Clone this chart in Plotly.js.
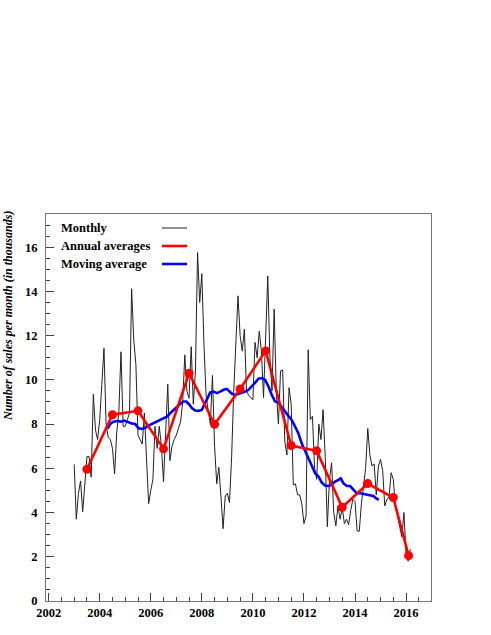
<!DOCTYPE html>
<html>
<head>
<meta charset="utf-8">
<script src="https://cdn.plot.ly/plotly-3.0.1.min.js"></script>
<style>html,body{margin:0;padding:0;background:#fff;}#chart{width:491px;height:635px;}</style>
</head>
<body>
<div id="chart"></div>
<script>
// ---- data ----
var monthlyStartYear = 2003;
var monthlySales = [
  // 2003
  6.18, 3.70, 4.87, 5.43, 4.04, 5.33, 6.53, 6.53, 5.60, 9.35, 7.74, 7.30,
  // 2004
  8.20, 9.80, 11.43, 8.00, 7.40, 7.30, 6.90, 5.75, 7.60, 8.60, 11.27, 7.90,
  // 2005
  7.90, 8.20, 8.50, 14.12, 11.80, 10.70, 7.50, 7.30, 7.10, 8.50, 6.60, 4.40,
  // 2006
  5.00, 5.50, 7.90, 6.90, 7.90, 7.00, 5.40, 7.30, 9.80, 6.35, 7.00, 7.30,
  // 2007
  7.50, 7.80, 8.10, 9.00, 11.13, 9.47, 9.17, 11.50, 8.90, 10.40, 15.76, 13.50,
  // 2008
  14.80, 11.60, 9.30, 8.60, 8.00, 10.20, 7.00, 5.30, 6.05, 4.70, 3.27, 4.75,
  // 2009
  4.87, 4.45, 6.50, 9.50, 11.80, 13.80, 12.00, 11.30, 12.30, 9.50, 9.30, 9.20,
  // 2010
  9.10, 11.70, 11.00, 12.20, 11.30, 9.20, 12.00, 14.70, 11.00, 9.50, 13.20, 9.50,
  // 2011
  8.00, 10.40, 10.45, 7.20, 6.60, 9.65, 8.90, 5.25, 5.30, 4.80, 4.80, 4.40,
  // 2012
  3.50, 3.85, 11.36, 8.20, 8.35, 6.00, 5.50, 8.00, 7.30, 8.65, 6.50, 3.36,
  // 2013
  5.50, 6.25, 4.00, 3.40, 4.30, 3.70, 4.20, 3.50, 3.70, 3.45, 4.10, 4.60,
  // 2014
  4.50, 3.17, 3.15, 4.40, 5.20, 6.00, 7.80, 6.60, 6.10, 6.20, 4.80, 6.10,
  // 2015
  6.40, 5.90, 4.30, 4.60, 4.70, 5.80, 5.50, 4.30, 3.85, 3.30, 2.90, 4.00,
  // 2016
  2.10, 1.80, 2.35
];

var annualX   = [2003.5, 2004.5, 2005.5, 2006.5, 2007.5, 2008.5, 2009.5, 2010.5, 2011.5, 2012.5, 2013.5, 2014.5, 2015.5, 2016.1];
var annualAvg = [5.96, 8.42, 8.60, 6.88, 10.30, 7.99, 9.59, 11.31, 7.03, 6.79, 4.24, 5.31, 4.68, 2.05];

var movingX = [2004.31, 2004.41, 2004.54, 2004.70, 2004.83, 2004.96, 2005.07, 2005.22, 2005.39, 2005.52,
  2005.65, 2005.78, 2005.91, 2006.04, 2006.17, 2006.34, 2006.50, 2006.63, 2006.76, 2006.89,
  2007.02, 2007.15, 2007.28, 2007.39, 2007.49, 2007.61, 2007.74, 2007.87, 2008.00, 2008.09,
  2008.20, 2008.33, 2008.46, 2008.59, 2008.72, 2008.85, 2008.98, 2009.08, 2009.18, 2009.31,
  2009.44, 2009.57, 2009.70, 2009.83, 2009.96, 2010.09, 2010.22, 2010.35, 2010.48, 2010.61,
  2010.74, 2010.87, 2011.00, 2011.13, 2011.26, 2011.39, 2011.52, 2011.65, 2011.78, 2011.91,
  2012.05, 2012.18, 2012.31, 2012.44, 2012.57, 2012.70, 2012.83, 2012.96, 2013.09, 2013.22,
  2013.35, 2013.44, 2013.55, 2013.68, 2013.81, 2013.94, 2014.07, 2014.20, 2014.33, 2014.46,
  2014.59, 2014.72, 2014.82, 2014.93];
var movingAvg = [7.80, 8.01, 8.11, 8.14, 8.11, 8.16, 8.11, 8.04, 8.01, 7.81,
  7.78, 7.83, 7.93, 8.01, 8.07, 8.19, 8.27, 8.34, 8.49, 8.64,
  8.79, 8.91, 9.02, 9.02, 8.91, 8.72, 8.61, 8.60, 8.64, 8.87,
  9.17, 9.43, 9.47, 9.40, 9.47, 9.55, 9.59, 9.47, 9.37, 9.32,
  9.37, 9.40, 9.47, 9.55, 9.70, 9.88, 10.05, 10.08, 10.00, 9.70,
  9.32, 9.02, 8.97, 8.79, 8.57, 8.37, 8.19, 7.89, 7.59, 7.13,
  6.76, 6.46, 6.15, 5.78, 5.63, 5.35, 5.22, 5.20, 5.25, 5.40,
  5.48, 5.55, 5.32, 5.20, 5.20, 5.02, 4.87, 4.87, 4.84, 4.80,
  4.75, 4.75, 4.65, 4.57];

var legendLabels = ["Monthly", "Annual averages", "Moving average"];
var yTitle = "Number of sales per month (in thousands)";
// ---------------------------------------

var monthlyX = monthlySales.map(function (v, i) { return monthlyStartYear + i / 12; });

var FONT = "Liberation Serif, Times New Roman, serif";
var colMonthly = "#222222", colAnnual = "#ff0000", colMoving = "#0000ff";

var traces = [
  { x: monthlyX, y: monthlySales, type: "scatter", mode: "lines",
    line: { color: colMonthly, width: 1 }, name: legendLabels[0], hoverinfo: "skip" },
  { x: movingX, y: movingAvg, type: "scatter", mode: "lines",
    line: { color: colMoving, width: 2.6 }, name: legendLabels[2], hoverinfo: "skip" },
  { x: annualX, y: annualAvg, type: "scatter", mode: "lines+markers",
    line: { color: colAnnual, width: 2.6 }, marker: { color: colAnnual, size: 9, symbol: "circle" },
    name: legendLabels[1], hoverinfo: "skip" }
];

var L = 46, R = 60, T = 214, B = 34, W = 491, H = 635;
var pw = W - L - R, ph = H - T - B;
function px2paperX(px) { return (px - L) / pw; }
function px2paperY(py) { return (H - B - py) / ph; }

var legendRows = [228, 246, 264];
var legendColors = [colMonthly, colAnnual, colMoving];
var legendWidths = [1, 2.6, 2.6];
var annotations = [], shapes = [];
legendLabels.forEach(function (lab, k) {
  annotations.push({
    xref: "paper", yref: "paper", x: px2paperX(59), y: px2paperY(legendRows[k]),
    xanchor: "left", yanchor: "middle", showarrow: false, text: lab,
    font: { family: FONT, size: 12.5, color: "#000", weight: "bold" }
  });
  shapes.push({
    type: "line", xref: "paper", yref: "paper",
    x0: px2paperX(162), x1: px2paperX(187), y0: px2paperY(legendRows[k]), y1: px2paperY(legendRows[k]),
    line: { color: legendColors[k], width: legendWidths[k] }
  });
});
annotations.push({
  xref: "paper", yref: "paper", x: px2paperX(8), y: px2paperY(316),
  xanchor: "center", yanchor: "middle", showarrow: false, textangle: -90, text: yTitle,
  font: { family: FONT, size: 12, color: "#000", weight: "bold", style: "italic" }
});

var layout = {
  width: W, height: H,
  margin: { l: L, r: R, t: T, b: B, pad: 0 },
  paper_bgcolor: "#ffffff", plot_bgcolor: "#ffffff",
  showlegend: false,
  xaxis: {
    range: [2001.896, 2016.977], tick0: 2002, dtick: 2,
    ticks: "inside", ticklen: 8, tickwidth: 1, tickcolor: "#444",
    showline: true, linecolor: "#777", linewidth: 1, mirror: true,
    showgrid: false, zeroline: false,
    tickfont: { family: FONT, size: 12.5, color: "#000", weight: "bold" },
    minor: { dtick: 0.5, tick0: 2002, ticks: "inside", ticklen: 4, tickcolor: "#444", showgrid: false }
  },
  yaxis: {
    range: [0, 17.5], tick0: 0, dtick: 2,
    ticks: "inside", ticklen: 8, tickwidth: 1, tickcolor: "#444",
    showline: true, linecolor: "#777", linewidth: 1, mirror: true,
    showgrid: false, zeroline: false, ticklabelstandoff: 5,
    tickfont: { family: FONT, size: 12.5, color: "#000", weight: "bold" },
    minor: { dtick: 0.5, tick0: 0, ticks: "inside", ticklen: 4, tickcolor: "#444", showgrid: false }
  },
  annotations: annotations,
  shapes: shapes
};

Plotly.newPlot("chart", traces, layout, { displayModeBar: false, staticPlot: true });
</script>
</body>
</html>
